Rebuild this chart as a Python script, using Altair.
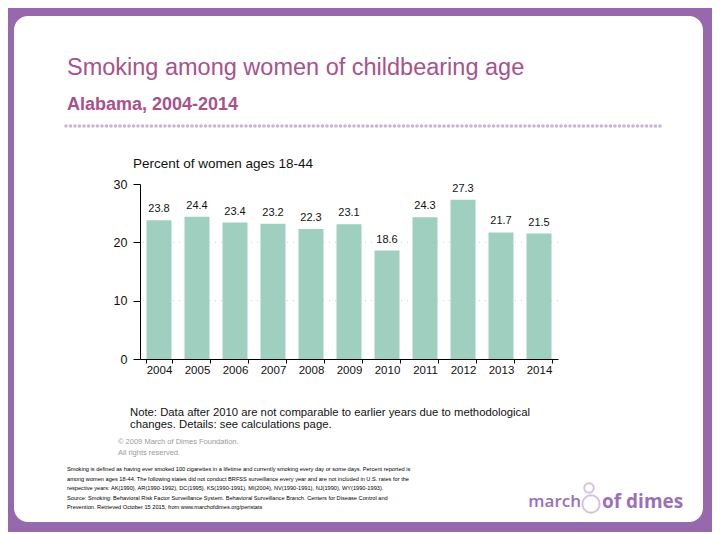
import altair as alt
import pandas as pd

years = ["2004", "2005", "2006", "2007", "2008", "2009", "2010", "2011", "2012", "2013", "2014"]
values = [23.8, 24.4, 23.4, 23.2, 22.3, 23.1, 18.6, 24.3, 27.3, 21.7, 21.5]
y_ticks = [0, 10, 20, 30]
grid_vals = [10, 20]

title_text = "Smoking among women of childbearing age"
subtitle_text = "Alabama, 2004-2014"
axis_title_text = "Percent of women ages 18-44"
note_lines = [
    "Note: Data after 2010 are not comparable to earlier years due to methodological",
    "changes. Details: see calculations page.",
]
copyright_lines = ["© 2009 March of Dimes Foundation.", "All rights reserved."]
footnote_lines = [
    "Smoking is defined as having ever smoked 100 cigarettes in a lifetime and currently smoking every day or some days.  Percent reported is",
    "among women ages 18-44. The following states did not conduct BRFSS surveillance every year and are not included in U.S. rates for the",
    "respective years: AK(1990), AR(1990-1992), DC(1995), KS(1990-1991), MI(2004), NV(1990-1991), NJ(1990), WY(1990-1993).",
    "Source: Smoking: Behavioral Risk Factor Surveillance System.  Behavioral Surveillance Branch.  Centers for Disease Control and",
    "Prevention. Retrieved October 15 2015, from www.marchofdimes.org/peristats",
]

FONT = "Liberation Sans"
PURPLE_TITLE = "#a8528b"
df = pd.DataFrame({"year": years, "value": values})
one = pd.DataFrame({"k": [0]})

W, H = 418, 175

frame = alt.Chart(one).mark_rect(color="white", cornerRadius=14).encode(
    x=alt.value(-126), x2=alt.value(563), y=alt.value(-168), y2=alt.value(338)
)

xenc = alt.X("year:N", sort=years, title=None,
             scale=alt.Scale(paddingInner=0.342, paddingOuter=0.171),
             axis=alt.Axis(labelAngle=0, tickBand="extent", tickSize=4, labelPadding=1,
                           labelFontSize=11.5, labelFont=FONT, labelColor="#111",
                           domainColor="#000", tickColor="#000", grid=False, zindex=2))
yscale = alt.Scale(domain=[0, 30], nice=False)

grid = alt.Chart(pd.DataFrame({"g": grid_vals})).mark_rule(
    color="#cfcfcf", strokeDash=[1, 5], strokeWidth=1
).encode(y=alt.Y("g:Q", scale=yscale))

bars = alt.Chart(df).mark_bar(color="#9ecfbf").encode(
    x=xenc,
    y=alt.Y("value:Q", scale=yscale, title=None,
            axis=alt.Axis(values=y_ticks, tickSize=7, labelPadding=6, labelFontSize=12.5,
                          labelFont=FONT, labelColor="#111", domainColor="#000",
                          tickColor="#000", grid=False, zindex=2)),
)

labels = alt.Chart(df).mark_text(baseline="middle", dy=-11, fontSize=11, font=FONT, color="#111").encode(
    x=alt.X("year:N", sort=years), y=alt.Y("value:Q", scale=yscale), text=alt.Text("value:Q", format=".1f")
)

def txt(lines, x, y, size, color="#000", weight="normal", lh=None, align="left"):
    kw = dict(align=align, baseline="middle", fontSize=size, font=FONT, color=color, fontWeight=weight)
    if lh is not None:
        kw["lineHeight"] = lh
    return alt.Chart(one).mark_text(**kw).encode(x=alt.value(x), y=alt.value(y), text=alt.value(lines))

title = txt(title_text, -73, -116, 23.5, PURPLE_TITLE)
subtitle = txt(subtitle_text, -73, -79, 18, PURPLE_TITLE, weight="bold")
dots = alt.Chart(one).mark_rule(color="#c9b4d9", strokeDash=[0, 4.5], strokeCap="round", strokeWidth=3.6).encode(
    x=alt.value(-74), x2=alt.value(524), y=alt.value(-58)
)
axis_title = txt(axis_title_text, -7, -20, 13.5, "#111")
note = txt(note_lines, -10, 229, 11.3, "#111", lh=12)
copyright_ = txt(copyright_lines, -22, 258, 7.5, "#9a9a9a", lh=11)
foot = txt(footnote_lines, -73, 285, 5.65, "#000", lh=9.5)

logo_color = "#9b70b9"
logo1 = alt.Chart(one).mark_text(align="right", baseline="middle", fontSize=17, font="Open Sans",
                                 fontWeight=600, color=logo_color).encode(
    x=alt.value(441), y=alt.value(318), text=alt.value("march"))
logo2 = alt.Chart(one).mark_text(align="left", baseline="middle", fontSize=19, font="Open Sans",
                                 fontWeight=700, color=logo_color).encode(
    x=alt.value(462), y=alt.value(318), text=alt.value("of dimes"))
icon_big = alt.Chart(one).mark_point(shape="circle", filled=False, color="#c3a9d8", strokeWidth=2, size=300).encode(
    x=alt.value(451), y=alt.value(320))
icon_small = alt.Chart(one).mark_point(shape="circle", filled=False, color="#c3a9d8", strokeWidth=2, size=90).encode(
    x=alt.value(449), y=alt.value(304))

chart = alt.layer(
    frame, grid, bars, labels, title, subtitle, dots, axis_title, note, copyright_, foot,
    logo1, logo2, icon_big, icon_small
).properties(
    width=W, height=H,
    autosize=alt.AutoSizeParams(type="none"),
    padding={"left": 132, "top": 176, "right": 154, "bottom": 173},
    background="#9669ac",
).configure_view(stroke=None)

chart.save("out.html", embed_options={"renderer": "svg", "actions": False})
